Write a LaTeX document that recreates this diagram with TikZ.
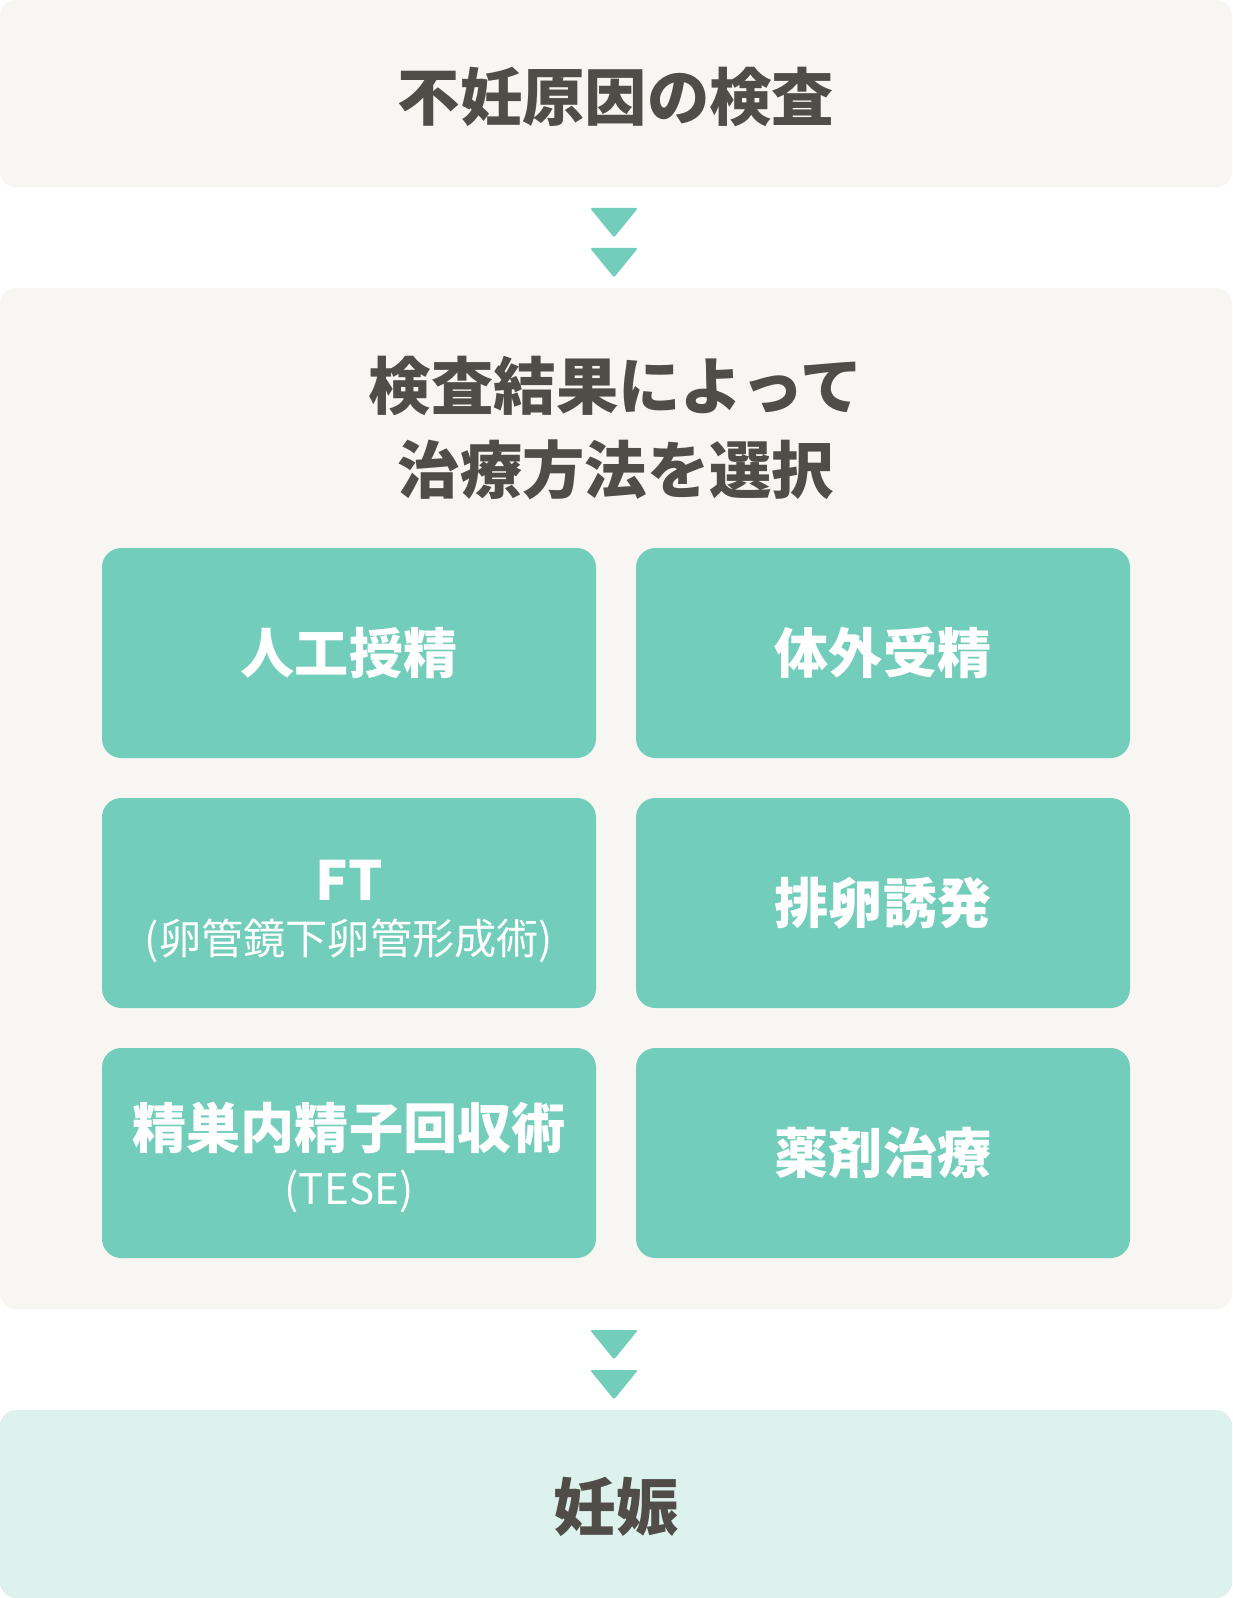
\documentclass[tikz,border=0pt]{standalone}
\usepackage{fontspec}
\setmainfont{Noto Sans CJK JP}
\usetikzlibrary{positioning}

\definecolor{paper}{HTML}{F7F6F2}
\definecolor{mint}{HTML}{72CDBB}
\definecolor{palemint}{HTML}{DDF1ED}
\definecolor{ink}{HTML}{504C48}

\begin{document}
\begin{tikzpicture}[
    panel/.style = {fill=paper, rounded corners=9pt, inner sep=0pt, minimum width=24.64cm},
    goal/.style = {fill=palemint, rounded corners=9pt, inner sep=0pt, minimum width=24.64cm, minimum height=3.76cm},
    method/.style = {fill=mint, rounded corners=11pt, inner sep=0pt, minimum width=9.88cm, minimum height=4.2cm,
                     text=white, font=\bfseries\fontsize{30.8}{34}\selectfont},
    heading/.style = {text=ink, align=center, font=\bfseries\fontsize{35.5}{47.8}\selectfont},
    subnote/.style = {text=white, font=\fontsize{24}{28}\selectfont},
    chevron/.pic = {\fill[mint, rounded corners=1.2pt] (-0.48,0) -- (0.48,0) -- (0,-0.59) -- cycle;}
    ]
    \useasboundingbox (0,0) rectangle (24.64,-31.96);

    % step 1: examination
    \node (exam) [panel, minimum height=3.75cm] at (12.32,-1.875) {};
    \node [heading] at (12.32,-1.94) {不妊原因の検査};

    \pic at (12.28,-4.16) {chevron};
    \pic at (12.28,-4.96) {chevron};

    % step 2: treatment choice
    \node (choice) [panel, minimum height=20.42cm] at (12.32,-15.97) {};
    \node (title) [heading] at (12.32,-8.56) {検査結果によって\\治療方法を選択};

    \node (ai)   [method] at (6.98,-13.06)  {人工授精};
    \node (ivf)  [method] at (17.66,-13.06) {体外受精};
    \node (ft)   [method] at (6.98,-18.06)  {};
    \node (ovu)  [method] at (17.66,-18.06) {排卵誘発};
    \node (tese) [method] at (6.98,-23.06)  {};
    \node (drug) [method] at (17.66,-23.06) {薬剤治療};

    \node [text=white, font=\bfseries\fontsize{30.8}{34}\selectfont] at ([yshift=0.46cm]ft.center) {FT};
    \node [subnote] at ([yshift=-0.76cm]ft.center) {(卵管鏡下卵管形成術)};
    \node [text=white, font=\bfseries\fontsize{30.8}{34}\selectfont] at ([yshift=0.5cm]tese.center) {精巣内精子回収術};
    \node [subnote] at ([yshift=-0.76cm]tese.center) {(TESE)};

    \pic at (12.28,-26.6) {chevron};
    \pic at (12.28,-27.4) {chevron};

    % step 3: result
    \node (preg) [goal] at (12.32,-30.08) {};
    \node [heading] at (12.32,-30.14) {妊娠};
\end{tikzpicture}
\end{document}
